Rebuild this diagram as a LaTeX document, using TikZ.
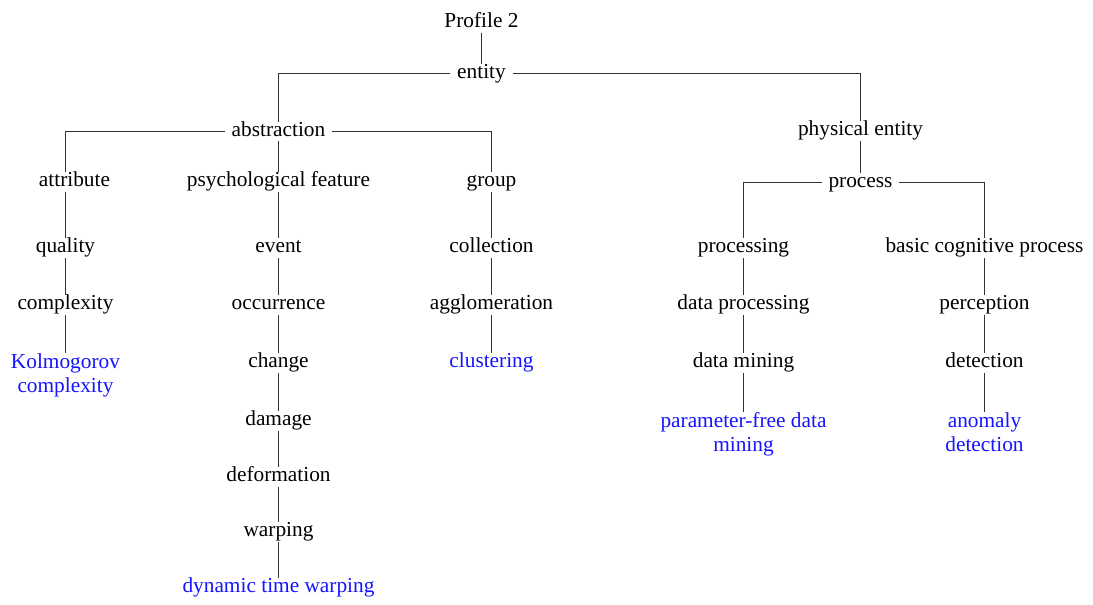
\documentclass[tikz,border=0pt]{standalone}
\usepackage{fontspec}
\setmainfont{Liberation Serif}
\definecolor{leafblue}{RGB}{20,20,255}
\definecolor{edgegray}{RGB}{50,50,50}
\begin{document}
\begin{tikzpicture}[x=0.75pt, y=-0.75pt,
  lbl/.style={font=\fontsize{16}{18}\selectfont, text height=10.9pt, text depth=3.5pt,
              inner xsep=5pt, inner ysep=0pt, anchor=base},
  leaf/.style={lbl, text=leafblue},
  multileaf/.style={font=\fontsize{16}{18}\selectfont, align=center, inner xsep=5pt,
                    inner ysep=0pt, anchor=north, text=leafblue},
  edge/.style={draw=edgegray, line width=0.8pt}]
\useasboundingbox (0,0) rectangle (1093,605);

% root and first split
\node[lbl] (profile) at (481.5,28) {Profile 2};
\node[lbl] (entity) at (481.5,78.4) {entity};
\node[lbl] (abstraction) at (278.5,136.4) {abstraction};
\node[lbl] (physical) at (860.5,136) {physical entity};

% abstraction branch
\node[lbl] (attribute) at (74.5,187) {attribute};
\node[lbl] (psych) at (278.5,187) {psychological feature};
\node[lbl] (group) at (491.5,187) {group};

\node[lbl] (quality) at (65.5,253) {quality};
\node[lbl] (complexity) at (65.5,310) {complexity};
\node[multileaf] (kolmo) at (65.5,353) {Kolmogorov\\complexity};

\node[lbl] (event) at (278.5,253) {event};
\node[lbl] (occurrence) at (278.5,310) {occurrence};
\node[lbl] (change) at (278.5,368) {change};
\node[lbl] (damage) at (278.5,426) {damage};
\node[lbl] (deformation) at (278.5,482) {deformation};
\node[lbl] (warping) at (278.5,537) {warping};
\node[leaf] (dtw) at (278.5,593) {dynamic time warping};

\node[lbl] (collection) at (491.5,253) {collection};
\node[lbl] (agglomeration) at (491.5,310) {agglomeration};
\node[leaf] (clustering) at (491.5,368) {clustering};

% physical entity branch
\node[lbl] (process) at (860.5,187.4) {process};
\node[lbl] (processing) at (743.5,253) {processing};
\node[lbl] (dataproc) at (743.5,310) {data processing};
\node[lbl] (datamining) at (743.5,368) {data mining};
\node[multileaf] (pfdm) at (743.5,412) {parameter-free data\\mining};

\node[lbl] (basic) at (984.5,253) {basic cognitive process};
\node[lbl] (perception) at (984.5,310) {perception};
\node[lbl] (detection) at (984.5,368) {detection};
\node[multileaf] (anomaly) at (984.5,412) {anomaly\\detection};

% connectors
\path[edge] (profile.south) -- (entity.north);
\path[edge] (entity.west) -| (abstraction.north);
\path[edge] (entity.east) -| (physical.north);

\path[edge] (abstraction.west) -| (quality.center |- attribute.north);
\path[edge] (abstraction.south) -- (psych.north);
\path[edge] (abstraction.east) -| (group.north);

\path[edge] (quality.center |- attribute.south) -- (quality.north);
\path[edge] (quality.south) -- (complexity.north);
\path[edge] (complexity.south) -- (kolmo.north);

\path[edge] (psych.south) -- (event.north);
\path[edge] (event.south) -- (occurrence.north);
\path[edge] (occurrence.south) -- (change.north);
\path[edge] (change.south) -- (damage.north);
\path[edge] (damage.south) -- (deformation.north);
\path[edge] (deformation.south) -- (warping.north);
\path[edge] (warping.south) -- (dtw.north);

\path[edge] (group.south) -- (collection.north);
\path[edge] (collection.south) -- (agglomeration.north);
\path[edge] (agglomeration.south) -- (clustering.north);

\path[edge] (physical.south) -- (process.north);
\path[edge] (process.west) -| (processing.north);
\path[edge] (process.east) -| (basic.north);

\path[edge] (processing.south) -- (dataproc.north);
\path[edge] (dataproc.south) -- (datamining.north);
\path[edge] (datamining.south) -- (pfdm.north);

\path[edge] (basic.south) -- (perception.north);
\path[edge] (perception.south) -- (detection.north);
\path[edge] (detection.south) -- (anomaly.north);
\end{tikzpicture}
\end{document}
